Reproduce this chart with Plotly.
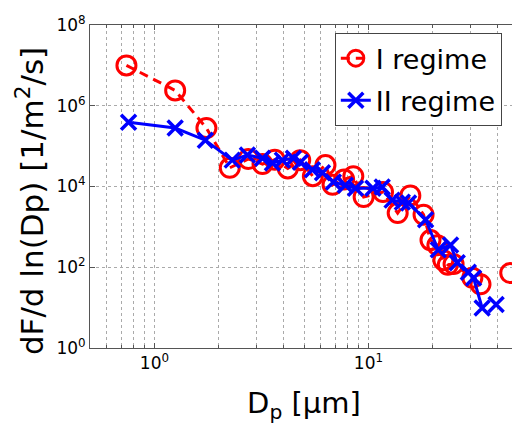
import plotly.graph_objects as go

# I regime (red circles, dashed); None marks a break in the line
dp_I = [0.74, 1.25, 1.75, 2.25, 2.75, 3.2, 3.65, 4.2, 4.8, 5.5, 6.3, 6.8, 7.7, 8.5,
        9.5, 11.7, 13.7, 15.7, 18.1, 19.5, 21.0, 22.4, 23.5, 25.0, 30.6, 33.4, None, 46.0]
flux_I = [1.0e7, 2.4e6, 2.8e5, 2.9e4, 4.8e4, 3.6e4, 4.6e4, 2.8e4, 4.5e4, 1.8e4, 3.4e4, 1.1e4, 1.5e4, 1.8e4,
          5.5e3, 7.3e3, 2.2e3, 6.0e3, 2.0e3, 4.7e2, 3.5e2, 1.5e2, 1.15e2, 1.2e2, 5.5e1, 3.8e1, None, 7.2e1]

# II regime (blue crosses, solid)
dp_II = [0.757, 1.25, 1.73, 2.31, 2.72, 3.2, 3.56, 3.96, 4.46, 4.81, 5.47, 6.1, 6.86, 7.8,
         8.7, 10.5, 11.6, 12.9, 14.4, 15.4, 18.5, 21.2, 24.2, 26.0, 29.3, 31.0, 34.0, None, 39.5]
flux_II = [3.9e5, 2.8e5, 1.4e5, 4.5e4, 6.0e4, 5.0e4, 3.8e4, 4.5e4, 5.0e4, 4.0e4, 2.6e4, 2.2e4, 1.3e4, 1.07e4,
           9.1e3, 9.1e3, 9.7e3, 4.6e3, 4.1e3, 3.9e3, 1.5e3, 2.7e2, 3.55e2, 1.3e2, 7.5e1, 5.4e1, 9.8, None, 12.0]

x_ticks = [1, 10]
x_ticktext = ["10<sup>0</sup>", "10<sup>1</sup>"]
x_minor = [0.6, 0.7, 0.8, 0.9, 2, 3, 4, 5, 6, 7, 8, 9, 20, 30, 40]
y_ticks = [1, 1e2, 1e4, 1e6, 1e8]
y_ticktext = ["10<sup>0</sup>", "10<sup>2</sup>", "10<sup>4</sup>", "10<sup>6</sup>", "10<sup>8</sup>"]

FONT = "DejaVu Sans"

fig = go.Figure()
fig.add_trace(go.Scatter(
    x=dp_I, y=flux_I, mode="lines+markers", name="I regime", legendgroup="a", cliponaxis=False,
    line=dict(color="#ff0000", width=3, dash="9px,6px"),
    marker=dict(symbol="circle-open", size=19, color="#ff0000", line=dict(width=3, color="#ff0000")),
))
fig.add_trace(go.Scatter(
    x=dp_II, y=flux_II, mode="lines+markers", name="II regime", legendgroup="b", cliponaxis=False,
    line=dict(color="#0000ff", width=3),
    marker=dict(symbol="x-thin-open", size=15, color="#0000ff", line=dict(width=3.5, color="#0000ff")),
))

axis_common = dict(
    type="log", showline=True, linecolor="#555555", linewidth=1, mirror="ticks",
    ticks="inside", ticklen=5, tickcolor="#555555", zeroline=False, automargin=False,
    tickfont=dict(family=FONT, size=17, color="black"),
    showgrid=True, gridcolor="#aaaaaa", gridwidth=1, griddash="dot",
)

fig.update_xaxes(
    **axis_common, range=[-0.30103, 1.69897],
    tickmode="array", tickvals=x_ticks, ticktext=x_ticktext,
    minor=dict(tickmode="array", tickvals=x_minor, ticks="inside", ticklen=3, tickcolor="#555555",
               showgrid=True, gridcolor="#aaaaaa", griddash="dot", gridwidth=1),
    title=dict(text="D<sub>p</sub> [μm]", font=dict(family=FONT, size=29, color="black"), standoff=20),
)
fig.update_yaxes(
    **axis_common, range=[0, 8],
    tickmode="array", tickvals=y_ticks, ticktext=y_ticktext,
)

# page body has an 8px default margin: figure is sized so the plot area lands at x 90-518, y 25-348
fig.update_layout(
    width=512, height=419,
    margin=dict(l=82, r=2, t=17, b=79),
    paper_bgcolor="white", plot_bgcolor="white",
    legend=dict(x=0.572, y=0.975, xanchor="left", yanchor="top",
                bgcolor="white", bordercolor="#444444", borderwidth=1,
                font=dict(family=FONT, size=27, color="black"),
                traceorder="grouped", tracegroupgap=4, itemwidth=30),
    showlegend=True,
    annotations=[dict(
        text="dF/d ln(Dp) [1/m<sup>2</sup>/s]", textangle=-90, showarrow=False,
        xref="paper", yref="paper", x=-0.14, y=0.455, xanchor="center", yanchor="middle",
        font=dict(family=FONT, size=31, color="black"),
    )],
)

fig.write_html("out.html")
